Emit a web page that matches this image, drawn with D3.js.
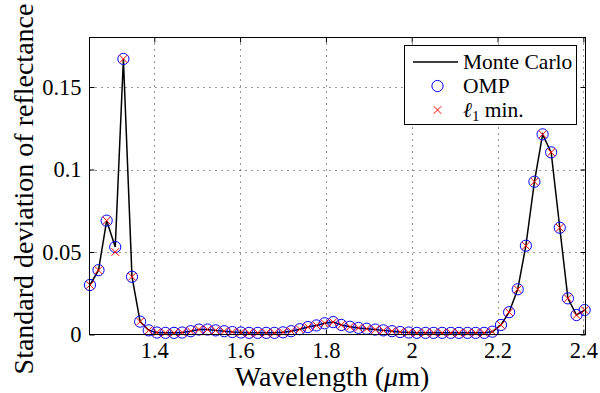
<!DOCTYPE html>
<html><head><meta charset="utf-8">
<script src="https://cdn.jsdelivr.net/npm/d3@7"></script>
<style>body{margin:0;background:#fff}svg{display:block}</style>
</head><body>
<svg id="chart" width="600" height="393"></svg>
<script>
const wavelengths = [1.250,1.270,1.289,1.309,1.328,1.348,1.367,1.387,1.406,1.426,
  1.446,1.465,1.485,1.504,1.524,1.543,1.563,1.582,1.602,1.621,
  1.641,1.661,1.680,1.700,1.719,1.739,1.758,1.778,1.797,1.817,
  1.836,1.856,1.876,1.895,1.915,1.934,1.954,1.973,1.993,2.012,
  2.032,2.051,2.071,2.091,2.110,2.130,2.149,2.169,2.188,2.208,
  2.227,2.247,2.266,2.286,2.305,2.325,2.345,2.364,2.384,2.403];
const monteCarlo = [0.030,0.039,0.069,0.053,0.167,0.035,0.0078,0.0025,0.0012,0.001,
  0.001,0.0012,0.002,0.003,0.003,0.0025,0.002,0.0015,0.0012,0.001,
  0.001,0.001,0.001,0.0013,0.002,0.0032,0.0045,0.0055,0.0068,0.0075,
  0.0058,0.0047,0.004,0.0035,0.003,0.0025,0.002,0.0015,0.0012,0.001,
  0.001,0.001,0.001,0.001,0.001,0.001,0.001,0.001,0.0017,0.0058,
  0.0135,0.0274,0.0538,0.0926,0.1213,0.1104,0.0647,0.0219,0.0118,0.0148];
const ompValues = [0.030,0.039,0.069,0.053,0.167,0.035,0.0078,0.0025,0.0012,0.001,
  0.001,0.0012,0.002,0.003,0.003,0.0025,0.002,0.0015,0.0012,0.001,
  0.001,0.001,0.001,0.0013,0.002,0.0032,0.0045,0.0055,0.0068,0.0075,
  0.0058,0.0047,0.004,0.0035,0.003,0.0025,0.002,0.0015,0.0012,0.001,
  0.001,0.001,0.001,0.001,0.001,0.001,0.001,0.001,0.0017,0.0058,
  0.0135,0.0274,0.0538,0.0926,0.1213,0.1104,0.0647,0.0219,0.0118,0.0148];
const l1Values = [0.030,0.039,0.069,0.050,0.167,0.035,0.0078,0.0025,0.0012,0.001,
  0.001,0.0012,0.002,0.003,0.003,0.0025,0.002,0.0015,0.0012,0.001,
  0.001,0.001,0.001,0.0013,0.002,0.0032,0.0045,0.0055,0.0068,0.0075,
  0.0058,0.0047,0.004,0.0035,0.003,0.0025,0.002,0.0015,0.0012,0.001,
  0.001,0.001,0.001,0.001,0.001,0.001,0.001,0.001,0.0017,0.0058,
  0.0135,0.0274,0.0538,0.0926,0.1213,0.1104,0.0647,0.0219,0.0118,0.0148];
const xTicks = [1.4, 1.6, 1.8, 2.0, 2.2, 2.4];
const xTickLabels = ["1.4", "1.6", "1.8", "2", "2.2", "2.4"];
const yTicks = [0, 0.05, 0.1, 0.15];
const yTickLabels = ["0", "0.05", "0.1", "0.15"];
const legendLabels = ["Monte Carlo", "OMP", "min."];

const FONT = "Liberation Serif, Times New Roman, serif";
const L = 89.5, R = 585.5, T = 37.5, B = 334.5;
const x = d3.scaleLinear().domain([1.249, 2.405]).range([L, R]);
const y = d3.scaleLinear().domain([0, 0.18]).range([B, T]);

const svg = d3.select("#chart");
svg.append("rect").attr("width", 600).attr("height", 393).attr("fill", "#fff");

// grid
const grid = svg.append("g").attr("stroke", "#333").attr("stroke-width", 1)
  .attr("stroke-dasharray", "1,5");
grid.selectAll("line.vx").data(xTicks).join("line")
  .attr("x1", d => Math.round(x(d)) + 0.5).attr("x2", d => Math.round(x(d)) + 0.5)
  .attr("y1", T).attr("y2", B);
grid.selectAll("line.hy").data(yTicks.filter(d => d > 0)).join("line")
  .attr("y1", d => Math.round(y(d)) + 0.5).attr("y2", d => Math.round(y(d)) + 0.5)
  .attr("x1", L).attr("x2", R);

// axes with inward ticks
const axB = d3.axisBottom(x).tickValues(xTicks).tickSize(-5).tickFormat((d, i) => xTickLabels[i]).tickPadding(8);
const axT = d3.axisTop(x).tickValues(xTicks).tickSize(-5).tickFormat("");
const axL = d3.axisLeft(y).tickValues(yTicks).tickSize(-5).tickFormat((d, i) => yTickLabels[i]).tickPadding(8);
const axR = d3.axisRight(y).tickValues(yTicks).tickSize(-5).tickFormat("");
function style(g) {
  g.attr("font-family", null).attr("font-size", null);
  g.select(".domain").remove();
  g.selectAll("line").attr("stroke", "#000");
  g.selectAll("text").style("font-family", FONT).style("font-size", "22.5px").attr("fill", "#000");
}
svg.append("g").attr("transform", `translate(0,${B})`).call(axB).call(style);
svg.append("g").attr("transform", `translate(0,${T})`).call(axT).call(style);
svg.append("g").attr("transform", `translate(${L},0)`).call(axL).call(style);
svg.append("g").attr("transform", `translate(${R},0)`).call(axR).call(style);

// data
const line = d3.line().x((d, i) => x(wavelengths[i])).y(d => y(d));
svg.append("path").datum(monteCarlo).attr("d", line)
  .attr("fill", "none").attr("stroke", "#000").attr("stroke-width", 1.5);

svg.append("g").selectAll("circle").data(ompValues).join("circle")
  .attr("cx", (d, i) => x(wavelengths[i])).attr("cy", d => y(d)).attr("r", 5.6)
  .attr("fill", "none").attr("stroke", "#0000ff").attr("stroke-width", 1);

const cs = 3.8;
svg.append("g").selectAll("path").data(l1Values).join("path")
  .attr("d", (d, i) => {
    const cx = x(wavelengths[i]), cy = y(d);
    return `M${cx - cs},${cy - cs}L${cx + cs},${cy + cs}M${cx - cs},${cy + cs}L${cx + cs},${cy - cs}`;
  })
  .attr("stroke", "#ff0000").attr("stroke-width", 1).attr("fill", "none");

// box
svg.append("rect").attr("x", L).attr("y", T).attr("width", R - L).attr("height", B - T)
  .attr("fill", "none").attr("stroke", "#000").attr("stroke-width", 1);

// axis labels
svg.append("text").attr("x", 332).attr("y", 386).attr("text-anchor", "middle")
  .style("font-family", FONT).style("font-size", "28px")
  .call(t => {
    t.append("tspan").text("Wavelength (");
    t.append("tspan").attr("font-style", "italic").text("μ");
    t.append("tspan").text("m)");
  });
svg.append("text").attr("transform", "translate(33,189) rotate(-90)").attr("text-anchor", "middle")
  .style("font-family", FONT).style("font-size", "28px").text("Standard deviation of reflectance");

// legend
const lg = svg.append("g");
lg.append("rect").attr("x", 404.5).attr("y", 45.5).attr("width", 172).attr("height", 79)
  .attr("fill", "#fff").attr("stroke", "#000").attr("stroke-width", 1);
lg.append("line").attr("x1", 413).attr("x2", 458).attr("y1", 62).attr("y2", 62)
  .attr("stroke", "#000").attr("stroke-width", 1.5);
lg.append("circle").attr("cx", 437.5).attr("cy", 86).attr("r", 5.6)
  .attr("fill", "none").attr("stroke", "#0000ff");
lg.append("path").attr("d", `M${437.5 - cs},${110 - cs}L${437.5 + cs},${110 + cs}M${437.5 - cs},${110 + cs}L${437.5 + cs},${110 - cs}`)
  .attr("stroke", "#ff0000").attr("fill", "none");
const ly = [62, 86, 110];
const ltxt = (i) => lg.append("text").attr("x", 463).attr("y", ly[i] + 7)
  .style("font-family", FONT).style("font-size", "21.5px");
ltxt(0).text(legendLabels[0]);
ltxt(1).text(legendLabels[1]);
ltxt(2).call(t => {
  t.append("tspan").attr("font-style", "italic").text("ℓ");
  t.append("tspan").style("font-size", "15px").attr("dy", 4).text("1");
  t.append("tspan").attr("dy", -4).text(" " + legendLabels[2]);
});
</script>
</body></html>
